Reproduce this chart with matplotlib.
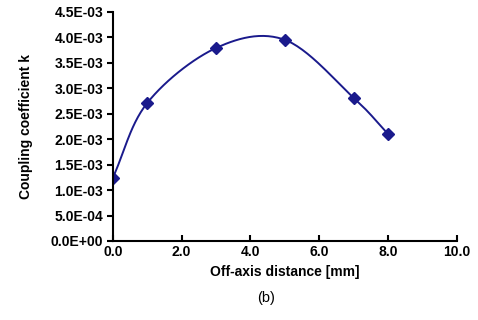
import numpy as np
import matplotlib
matplotlib.use("Agg")
import matplotlib.pyplot as plt
from matplotlib.ticker import FuncFormatter

x_mm = [0, 1, 3, 5, 7, 8]
k_vals = [1.24e-3, 2.71e-3, 3.79e-3, 3.95e-3, 2.81e-3, 2.10e-3]
x_ticks = [0, 2, 4, 6, 8, 10]
y_ticks = [0, 0.5e-3, 1.0e-3, 1.5e-3, 2.0e-3, 2.5e-3, 3.0e-3, 3.5e-3, 4.0e-3, 4.5e-3]

def smooth(xs, ys, n=30):
    # Catmull-Rom style smoothing (like spreadsheet "smoothed line")
    xs = np.asarray(xs, float); ys = np.asarray(ys, float)
    P = np.column_stack([xs, ys])
    P = np.vstack([P[0] - (P[1] - P[0]), P, P[-1] + (P[-1] - P[-2])])
    out = []
    for i in range(1, len(P) - 2):
        p0, p1, p2, p3 = P[i - 1], P[i], P[i + 1], P[i + 2]
        c1 = p1 + (p2 - p0) / 6.0
        c2 = p2 - (p3 - p1) / 6.0
        t = np.linspace(0, 1, n)[:, None]
        seg = ((1 - t) ** 3) * p1 + 3 * ((1 - t) ** 2) * t * c1 + 3 * (1 - t) * t ** 2 * c2 + t ** 3 * p2
        out.append(seg if i == 1 else seg[1:])
    S = np.vstack(out)
    return S[:, 0], S[:, 1]

plt.rcParams['font.family'] = ['Liberation Sans', 'DejaVu Sans']
fig = plt.figure(figsize=(4.78, 3.2), dpi=100)
ax = fig.add_axes([0.236, 0.247, 0.72, 0.716])

sx, sy = smooth(x_mm, k_vals)
color = '#1a1a8c'
ax.plot(sx, sy, color=color, lw=1.4)
ax.plot(x_mm, k_vals, linestyle='none', marker='D', color=color, markersize=6)

ax.set_xlim(0, 10)
ax.set_ylim(0, 4.5e-3)
ax.set_xticks(x_ticks)
ax.set_yticks(y_ticks)
ax.xaxis.set_major_formatter(FuncFormatter(lambda v, p: f"{v:.1f}"))
def yfmt(v, p):
    if v == 0:
        return "0.0E+00"
    e = int(np.floor(np.log10(abs(v)) + 1e-9))
    m = v / 10 ** e
    return f"{m:.1f}E-{-e:02d}"
ax.yaxis.set_major_formatter(FuncFormatter(yfmt))

for s in ['top', 'right']:
    ax.spines[s].set_visible(False)
for s in ['left', 'bottom']:
    ax.spines[s].set_linewidth(1.5)
    ax.spines[s].set_color('black')

ax.tick_params(axis='y', direction='out', length=4, width=1.5, labelsize=10, pad=3)
ax.tick_params(axis='x', direction='in', length=4, width=1.5, labelsize=10, pad=3)
for lab in ax.get_xticklabels() + ax.get_yticklabels():
    lab.set_fontweight('bold')

ax.set_xlabel("Off-axis distance [mm]", fontsize=10, fontweight='bold', labelpad=4)
ax.set_ylabel("Coupling coefficient k", fontsize=10, fontweight='bold', labelpad=13)
fig.text(0.5565, 0.07, "(b)", ha='center', va='center', fontsize=10.5)

fig.savefig("out.png", dpi=100)
